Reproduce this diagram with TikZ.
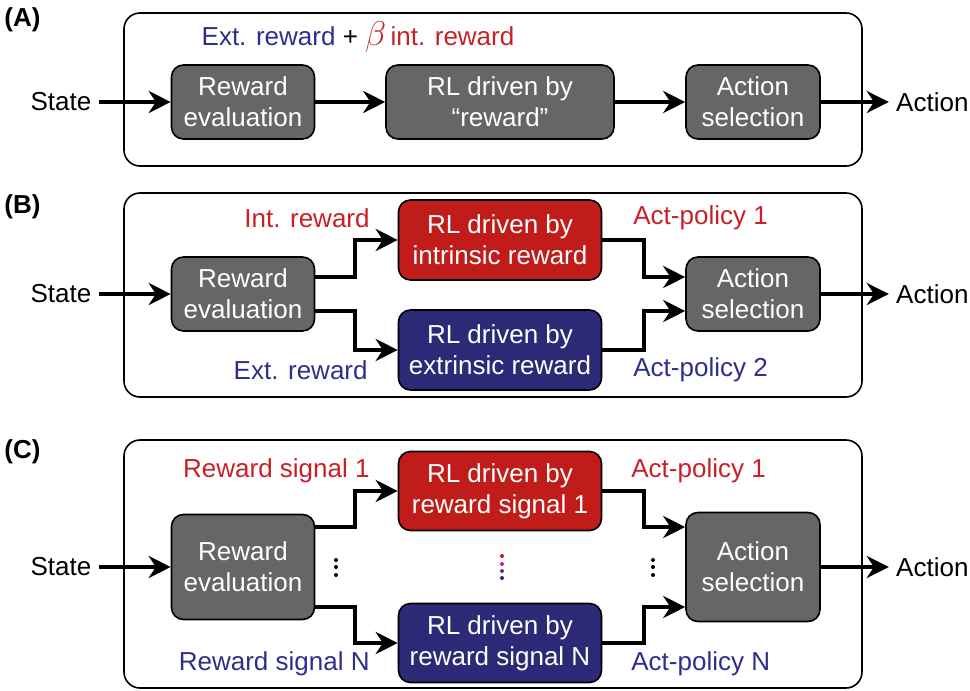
\documentclass[tikz,border=0pt]{standalone}
\usepackage{fontspec}
\setmainfont{Liberation Sans}
\usepackage{tikz}
\usetikzlibrary{positioning, arrows.meta, calc}
\definecolor{boxgray}{RGB}{102,102,102}
\definecolor{boxred}{RGB}{192,28,26}
\definecolor{boxblue}{RGB}{44,42,118}
\definecolor{txtred}{RGB}{200,32,38}
\definecolor{txtblue}{RGB}{46,46,140}
\definecolor{dotpink}{RGB}{200,30,140}
\definecolor{dotpurple}{RGB}{90,50,140}

\begin{document}
\begin{tikzpicture}[x=0.5pt, y=-0.5pt, font=\fontsize{13}{15.5}\selectfont,
block/.style={rectangle, rounded corners=6pt, draw=black, line width=0.8pt,
fill=#1, text=white, align=center, inner sep=0pt},
lbl/.style={inner sep=1pt, text=#1},
io/.style={inner sep=3.5pt},
tag/.style={anchor=west, inner sep=0pt, font=\fontsize{13}{15.5}\selectfont\bfseries},
frame/.style={draw=black, line width=0.8pt, rounded corners=8pt},
arrow/.style={-{Stealth[length=11pt, width=11pt]}, line width=2pt},
dot/.style={circle, fill=#1, inner sep=0pt, minimum size=2pt}
]
\useasboundingbox (0,0) rectangle (970,691);

% Panel A
\draw[frame] (124,13) rectangle (862,166);
\node[tag] (tagA) at (4,20) {(A)};
\node[block=boxgray, minimum width=71.5pt, minimum height=37pt] (evalA) at (243,102) {Reward\\evaluation};
\node[block=boxgray, minimum width=114pt, minimum height=37pt] (rlA) at (500,102) {RL driven by\\“reward”};
\node[block=boxgray, minimum width=67pt, minimum height=37pt] (actA) at (753,102) {Action\\selection};
\node[io, left=36pt of evalA] (stateA) {State};
\node[io, right=34pt of actA] (outA) {Action};
\node[lbl=black] (mixA) at (358,37)
{\textcolor{txtblue}{Ext. reward} + \textcolor{txtred}{{\fontsize{18}{18}\selectfont$\beta$}\,int. reward}};

\draw[arrow] (stateA) -- (evalA);
\draw[arrow] (evalA) -- (rlA);
\draw[arrow] (rlA) -- (actA);
\draw[arrow] (actA) -- (outA);

% Panel B
\draw[frame] (124,193) rectangle (862,397);
\node[tag] (tagB) at (4,207) {(B)};
\node[block=boxgray, minimum width=71.5pt, minimum height=37pt] (evalB) at (243,294) {Reward\\evaluation};
\node[block=boxred, minimum width=101.5pt, minimum height=40pt] (intB) at (500,240) {RL driven by\\intrinsic reward};
\node[block=boxblue, minimum width=101.5pt, minimum height=40pt] (extB) at (500,350) {RL driven by\\extrinsic reward};
\node[block=boxgray, minimum width=67pt, minimum height=37pt] (actB) at (753,294) {Action\\selection};
\node[io, left=36pt of evalB] (stateB) {State};
\node[io, right=34pt of actB] (outB) {Action};
\node[lbl=txtred, anchor=east] (intlblB) at (372,218) {Int. reward};
\node[lbl=txtblue, anchor=east] (extlblB) at (370,370) {Ext. reward};
\node[lbl=txtred, anchor=west] (polAB) at (631,218) {Act-policy 1};
\node[lbl=txtblue, anchor=west] (polBB) at (631,370) {Act-policy 2};

\draw[arrow] (stateB) -- (evalB);
\draw[arrow] ([yshift=8.5pt]evalB.east) -- ++(20pt,0) |- (intB.west);
\draw[arrow] ([yshift=-8.5pt]evalB.east) -- ++(20pt,0) |- (extB.west);
\draw[arrow] (intB.east) -- ++(21pt,0) |- ([yshift=8.5pt]actB.west);
\draw[arrow] (extB.east) -- ++(21pt,0) |- ([yshift=-8.5pt]actB.west);
\draw[arrow] (actB) -- (outB);

% Panel C
\draw[frame] (124,440) rectangle (862,688);
\node[tag] (tagC) at (4,452) {(C)};
\node[block=boxgray, minimum width=71.5pt, minimum height=52.5pt] (evalC) at (243,567) {Reward\\evaluation};
\node[block=boxred, minimum width=101.5pt, minimum height=39.5pt] (sigoneC) at (500,491) {RL driven by\\reward signal 1};
\node[block=boxblue, minimum width=101.5pt, minimum height=39.5pt] (signC) at (500,643) {RL driven by\\reward signal N};
\node[block=boxgray, minimum width=67pt, minimum height=54.5pt] (actC) at (753,567) {Action\\selection};
\node[io, left=36pt of evalC] (stateC) {State};
\node[io, right=34pt of actC] (outC) {Action};
\node[lbl=txtred, anchor=east] (sigonelblC) at (372,471) {Reward signal 1};
\node[lbl=txtblue, anchor=east] (signlblC) at (372,664) {Reward signal N};
\node[lbl=txtred, anchor=west] (poloneC) at (629,471) {Act-policy 1};
\node[lbl=txtblue, anchor=west] (polnC) at (629,664) {Act-policy N};

\draw[arrow] (stateC) -- (evalC);
\draw[arrow] ([yshift=20pt]evalC.east) -- ++(20pt,0) |- (sigoneC.west);
\draw[arrow] ([yshift=-20pt]evalC.east) -- ++(20pt,0) |- (signC.west);
\draw[arrow] (sigoneC.east) -- ++(21pt,0) |- ([yshift=20pt]actC.west);
\draw[arrow] (signC.east) -- ++(21pt,0) |- ([yshift=-20pt]actC.west);
\draw[arrow] (actC) -- (outC);

% dots
\foreach \y in {560,567,575} {
  \node[dot=black] at (336,\y) {};
  \node[dot=black] at (653,\y) {};
}
\node[dot=boxred] at (502,556) {};
\node[dot=dotpink] at (502,564) {};
\node[dot=dotpurple] at (502,571) {};
\node[dot=boxblue] at (502,578) {};

\end{tikzpicture}
\end{document}
